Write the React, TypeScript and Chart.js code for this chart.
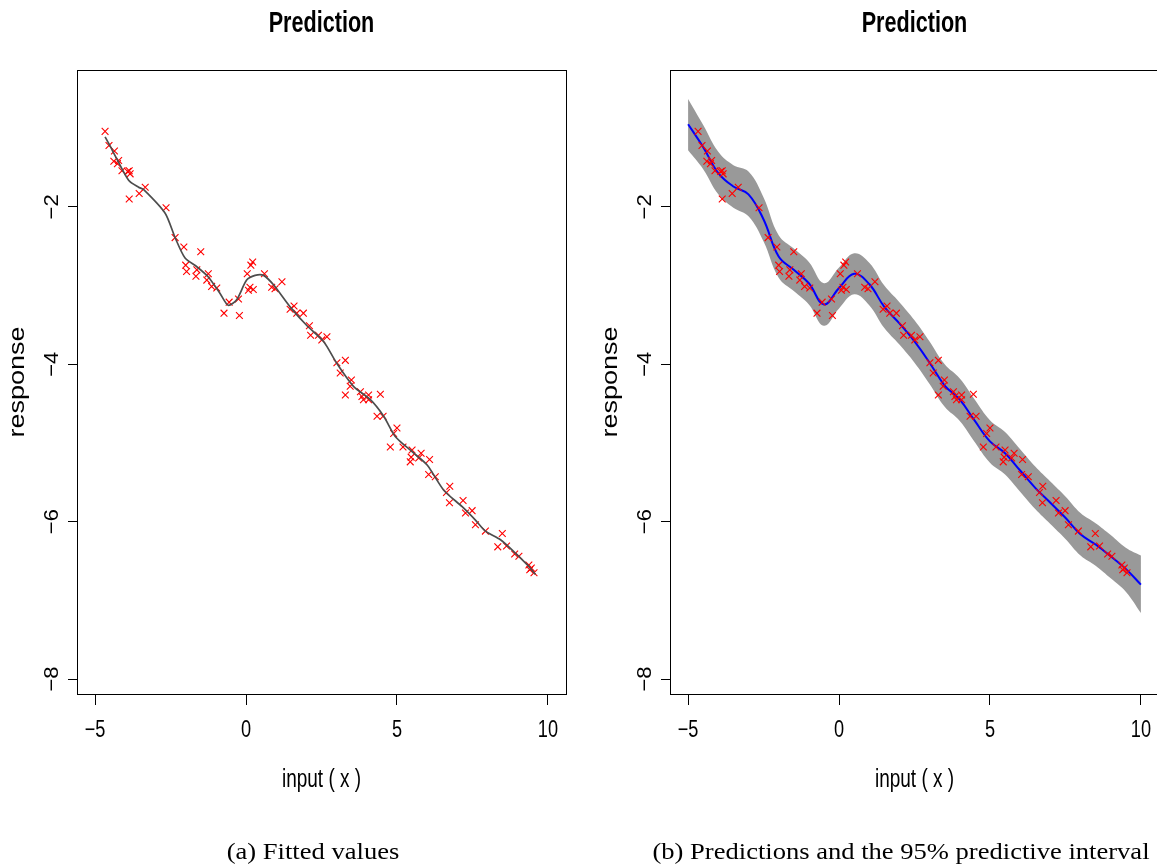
import React, { useEffect, useRef } from 'react';
import { Chart, registerables } from 'chart.js';

Chart.register(...registerables);

// ---- observed data (same in both panels) ----
const obsX = [
  -4.67, -4.54, -4.36, -4.38, -4.22, -4.26, -4.11, -3.92, -3.84, -3.87,
  -3.87, -3.54, -3.34, -2.65, -2.35, -2.06, -1.50, -2.00, -1.97, -1.63,
  -1.66, -1.25, -1.30, -1.14, -0.97, -0.56, -0.25, -0.73, -0.22, 0.22,
  0.16, 0.04, 0.13, 0.24, 0.08, 0.61, 0.85, 0.96, 1.19, 1.46,
  1.59, 1.68, 1.90, 2.10, 2.14, 2.40, 2.51, 2.68, 3.01, 3.29,
  3.12, 3.49, 3.45, 3.29, 3.79, 4.06, 4.45, 3.89, 3.84, 4.06,
  4.34, 4.54, 5.00, 4.89, 4.78, 5.20, 5.50, 5.47, 5.44, 5.80,
  5.72, 6.08, 6.05, 6.27, 6.75, 6.64, 6.74, 7.19, 7.27, 7.49,
  7.60, 7.93, 8.49, 8.34, 8.63, 8.90, 9.04, 9.37, 9.45, 9.54, 9.40,
];
const obsY = [
  -1.04, -1.22, -1.29, -1.42, -1.41, -1.45, -1.54, -1.55, -1.58, -1.54,
  -1.90, -1.83, -1.75, -2.01, -2.39, -2.51, -2.57, -2.74, -2.82, -2.80,
  -2.88, -2.85, -2.93, -3.01, -3.03, -3.21, -3.17, -3.35, -3.38, -2.70,
  -2.74, -2.85, -3.02, -3.05, -3.06, -2.85, -3.02, -3.04, -2.95, -3.30,
  -3.26, -3.35, -3.35, -3.51, -3.63, -3.63, -3.69, -3.65, -3.98, -3.95,
  -4.11, -4.20, -4.28, -4.39, -4.35, -4.39, -4.38, -4.45, -4.41, -4.45,
  -4.66, -4.66, -4.81, -4.88, -5.05, -5.05, -5.09, -5.18, -5.24, -5.13,
  -5.19, -5.21, -5.40, -5.43, -5.55, -5.63, -5.76, -5.73, -5.89, -5.86,
  -6.04, -6.12, -6.15, -6.32, -6.31, -6.41, -6.44, -6.55, -6.59, -6.65, -6.61,
];

// ---- fitted values (left panel) ----
const fitX = [
  -4.67, -4.54, -4.28, -3.89, -3.56, -3.39, -2.68, -2.35, -2.02, -1.63,
  -1.25, -0.86, -0.59, -0.31, 0.02, 0.30, 0.58, 0.91, 1.46, 2.02,
  2.57, 3.01, 3.56, 4.12, 4.56, 4.95, 5.50, 6.00, 6.55, 7.16,
  7.60, 7.93, 8.43, 8.87, 9.32, 9.59,
];
const fitY = [
  -1.11, -1.20, -1.39, -1.66, -1.75, -1.78, -2.08, -2.39, -2.65, -2.76,
  -2.89, -3.10, -3.25, -3.18, -2.93, -2.87, -2.87, -2.99, -3.27, -3.51,
  -3.71, -3.99, -4.28, -4.45, -4.66, -4.92, -5.11, -5.28, -5.60, -5.81,
  -5.98, -6.12, -6.23, -6.38, -6.55, -6.67,
];

// ---- predictions (right panel) ----
const gridX = [
  -5, -4.5, -4, -3.5, -3, -2.5, -2, -1.5, -1, -0.5, 0, 0.5, 1, 1.5, 2, 2.5,
  3, 3.5, 4, 4.5, 5, 5.5, 6, 6.5, 7, 7.5, 8, 8.5, 9, 9.5, 10,
];
const predMean = [
  -0.95, -1.24, -1.57, -1.74, -1.84, -2.16, -2.63, -2.80, -2.97, -3.24, -3.03, -2.85, -2.98, -3.27, -3.48, -3.71,
  -3.98, -4.27, -4.45, -4.72, -4.98, -5.13, -5.35, -5.57, -5.76, -5.95, -6.16, -6.29, -6.44, -6.60, -6.80,
];
const predUpper = [
  -0.63, -0.96, -1.30, -1.47, -1.55, -1.88, -2.36, -2.53, -2.70, -2.97, -2.77, -2.59, -2.71, -3.00, -3.21, -3.44,
  -3.71, -4.00, -4.18, -4.45, -4.71, -4.86, -5.08, -5.30, -5.49, -5.68, -5.89, -6.02, -6.17, -6.33, -6.43,
];
const predLower = [
  -1.28, -1.52, -1.84, -2.01, -2.12, -2.44, -2.90, -3.07, -3.24, -3.51, -3.29, -3.11, -3.25, -3.54, -3.75, -3.98,
  -4.25, -4.54, -4.72, -4.99, -5.25, -5.40, -5.62, -5.84, -6.03, -6.22, -6.43, -6.56, -6.72, -6.89, -7.16,
];

// ---- axes / text ----
const xTickValues = [-5, 0, 5, 10];
const xTickLabels = ['\u22125', '0', '5', '10'];
const yTickValues = [-8, -6, -4, -2];
const yTickLabels = ['\u22128', '\u22126', '\u22124', '\u22122'];
const titleText = 'Prediction';
const xLabelText = 'input ( x )';
const yLabelText = 'response';
const captionTexts = ['(a) Fitted values', '(b) Predictions and the 95% predictive interval'];

const W = 578;
const H = 866;

function pts(xs: number[], ys: number[]) {
  return xs.map((x, i) => ({ x, y: ys[i] }));
}

function txt(ctx: CanvasRenderingContext2D, s: string, x: number, y: number, font: string, k: number, angle: number) {
  ctx.save();
  ctx.translate(x, y);
  ctx.scale(k, 1);
  ctx.rotate(angle);
  ctx.font = font;
  ctx.textAlign = 'center';
  ctx.textBaseline = 'alphabetic';
  ctx.fillText(s, 0, 0);
  ctx.restore();
}

const decorPlugin = {
  id: 'rdecor',
  afterDraw(chart: any, _args: any, opts: any) {
    const { ctx, chartArea: a, scales } = chart;
    const xs = scales.x;
    const ys = scales.y;
    ctx.save();
    ctx.strokeStyle = '#000';
    ctx.lineWidth = 1;
    ctx.strokeRect(Math.round(a.left) + 0.5, Math.round(a.top) + 0.5, Math.round(a.right - a.left), Math.round(a.bottom - a.top));
    ctx.fillStyle = '#000';
    const cx = (a.left + a.right) / 2;
    txt(ctx, titleText, cx, 32, 'bold 30px "Liberation Sans", Arial, sans-serif', 0.72, 0);
    xTickValues.forEach((v, i) =>
      txt(ctx, xTickLabels[i], xs.getPixelForValue(v), a.bottom + 43, '23px "Liberation Sans", Arial, sans-serif', 0.79, 0)
    );
    yTickValues.forEach((v, i) =>
      txt(ctx, yTickLabels[i], a.left - 19, ys.getPixelForValue(v), '22px "Liberation Sans", Arial, sans-serif', 0.92, -Math.PI / 2)
    );
    txt(ctx, xLabelText, cx, a.bottom + 93, '25px "Liberation Sans", Arial, sans-serif', 0.76, 0);
    txt(ctx, yLabelText, a.left - 53, (a.top + a.bottom) / 2, '27px "Liberation Sans", Arial, sans-serif', 0.85, -Math.PI / 2);
    txt(ctx, opts.caption, opts.capX, 859, '23.5px "Liberation Serif", "Times New Roman", serif', 1.13, 0);
    ctx.restore();
  },
};

function makeOptions(caption: string, capX: number) {
  return {
    responsive: false,
    animation: false,
    devicePixelRatio: 1,
    events: [],
    layout: { padding: { top: 70, right: 12, left: 0, bottom: 0 } },
    plugins: {
      legend: { display: false },
      tooltip: { enabled: false },
      title: { display: false },
      rdecor: { caption, capX },
    },
    scales: {
      x: {
        type: 'linear',
        min: -5.6,
        max: 10.6,
        afterBuildTicks: (s: any) => {
          s.ticks = xTickValues.map((v) => ({ value: v }));
        },
        afterFit: (s: any) => {
          s.height = 172;
        },
        ticks: { display: false },
        grid: { drawOnChartArea: false, drawTicks: true, tickLength: 11, color: '#000', lineWidth: 1 },
        border: { display: false },
      },
      y: {
        type: 'linear',
        min: -8.19,
        max: -0.26,
        afterBuildTicks: (s: any) => {
          s.ticks = yTickValues.map((v) => ({ value: v }));
        },
        afterFit: (s: any) => {
          s.width = 77;
        },
        ticks: { display: false },
        grid: { drawOnChartArea: false, drawTicks: true, tickLength: 9, color: '#000', lineWidth: 1 },
        border: { display: false },
      },
    },
  } as any;
}

const pointStyleCfg = {
  showLine: false,
  pointStyle: 'crossRot',
  pointRadius: 4.8,
  pointBorderColor: '#FF0000',
  pointBackgroundColor: '#FF0000',
  pointBorderWidth: 1.1,
  borderColor: '#FF0000',
};

function LeftPanel() {
  const ref = useRef<HTMLCanvasElement>(null);
  useEffect(() => {
    if (!ref.current) return;
    const chart = new Chart(ref.current, {
      type: 'line',
      data: {
        datasets: [
          {
            label: 'fitted',
            data: pts(fitX, fitY),
            borderColor: '#4D4D4D',
            borderWidth: 1.7,
            pointRadius: 0,
            tension: 0.25,
            fill: false,
            order: 0,
          },
          { label: 'obs', data: pts(obsX, obsY), ...pointStyleCfg, order: 1 },
        ],
      },
      options: makeOptions(captionTexts[0], 313),
      plugins: [decorPlugin],
    } as any);
    return () => chart.destroy();
  }, []);
  return <canvas ref={ref} width={W} height={H} style={{ position: 'absolute', left: 0, top: 0, width: W, height: H }} />;
}

function RightPanel() {
  const ref = useRef<HTMLCanvasElement>(null);
  useEffect(() => {
    if (!ref.current) return;
    const chart = new Chart(ref.current, {
      type: 'line',
      data: {
        datasets: [
          {
            label: 'lower',
            data: pts(gridX, predLower),
            borderWidth: 0,
            borderColor: 'rgba(0,0,0,0)',
            pointRadius: 0,
            tension: 0.4,
            fill: false,
            order: 3,
          },
          {
            label: 'upper',
            data: pts(gridX, predUpper),
            borderWidth: 0,
            borderColor: 'rgba(0,0,0,0)',
            backgroundColor: '#999999',
            pointRadius: 0,
            tension: 0.4,
            fill: '-1',
            order: 2,
          },
          { label: 'obs', data: pts(obsX, obsY), ...pointStyleCfg, order: 0 },
          {
            label: 'mean',
            data: pts(gridX, predMean),
            borderColor: '#0000FF',
            borderWidth: 2,
            pointRadius: 0,
            tension: 0.4,
            fill: false,
            order: 1,
          },
        ],
      },
      options: makeOptions(captionTexts[1], 308),
      plugins: [decorPlugin],
    } as any);
    return () => chart.destroy();
  }, []);
  return <canvas ref={ref} width={W} height={H} style={{ position: 'absolute', left: 593, top: 0, width: W, height: H }} />;
}

export default function App() {
  return (
    <div style={{ position: 'absolute', left: 0, top: 0, width: 1157, height: 866, overflow: 'hidden', background: '#fff' }}>
      <LeftPanel />
      <RightPanel />
    </div>
  );
}
